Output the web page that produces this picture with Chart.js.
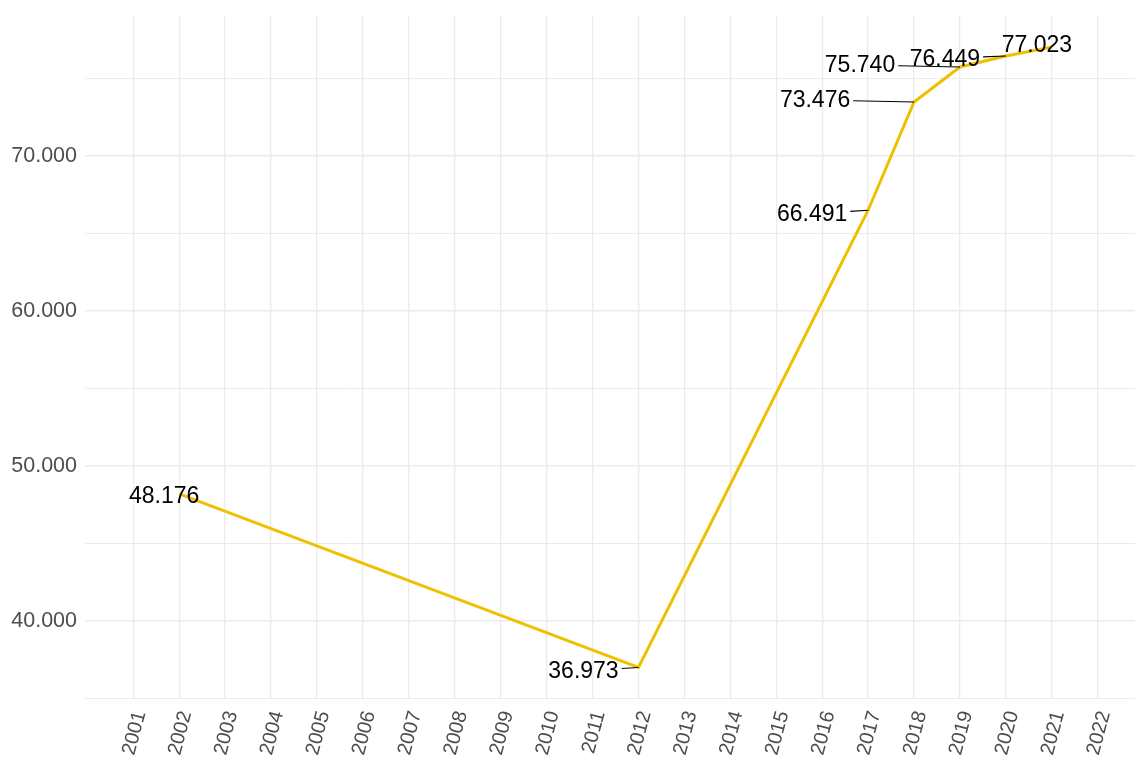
<!DOCTYPE html>
<html>
<head>
<meta charset="utf-8">
<script src="https://cdn.jsdelivr.net/npm/chart.js@4.4.0/dist/chart.umd.min.js"></script>
<style>
  html, body { margin: 0; padding: 0; background: #ffffff; overflow: hidden; }
  #wrap { width: 1135px; height: 758px; }
</style>
</head>
<body>
<div id="wrap"><canvas id="c" width="1135" height="758"></canvas></div>
<script>
// ---- data ----
const years = [2001, 2002, 2003, 2004, 2005, 2006, 2007, 2008, 2009, 2010, 2011,
               2012, 2013, 2014, 2015, 2016, 2017, 2018, 2019, 2020, 2021, 2022];
const pointYears = [2002, 2012, 2017, 2018, 2019, 2020, 2021];
const pointValues = [48176, 36973, 66491, 73476, 75740, 76449, 77023];
const yTicks = [35000, 40000, 45000, 50000, 55000, 60000, 65000, 70000, 75000];

// ---- styling ----
const LINE_COLOR = '#EFC000';
const GRID_COLOR = '#EBEBEB';
const TICK_COLOR = '#4D4D4D';
const FONT = '"Liberation Sans", Arial, Helvetica, sans-serif';
// label text-centre offsets (px) from each point, repel-style placement
const labelOffsets = [[-15, 2], [-55, 3.5], [-56, 3.5], [-99, -2], [-100, -2], [-61, 2.5], [-15, -2]];

function fmt(v) {
  return Math.round(v).toString().replace(/\B(?=(\d{3})+(?!\d))/g, '.');
}

const labelPlugin = {
  id: 'repelLabels',
  afterDatasetsDraw(chart) {
    const ctx = chart.ctx;
    const meta = chart.getDatasetMeta(0);
    ctx.save();
    ctx.font = '23px ' + FONT;
    ctx.textAlign = 'center';
    ctx.textBaseline = 'middle';
    meta.data.forEach((pt, i) => {
      const txt = fmt(pointValues[i]);
      const off = labelOffsets[i];
      const cx = pt.x + off[0];
      const cy = pt.y + off[1];
      const w = ctx.measureText(txt).width;
      const h = 17;
      const pad = 3;
      const x0 = cx - w / 2 - pad, x1 = cx + w / 2 + pad;
      const y0 = cy - h / 2 - pad, y1 = cy + h / 2 + pad;
      const inside = pt.x >= x0 && pt.x <= x1 && pt.y >= y0 && pt.y <= y1;
      if (!inside) {
        const dx = pt.x - cx, dy = pt.y - cy;
        let t = Infinity;
        if (dx !== 0) t = Math.min(t, ((dx > 0 ? x1 : x0) - cx) / dx);
        if (dy !== 0) t = Math.min(t, ((dy > 0 ? y1 : y0) - cy) / dy);
        const sx = cx + dx * t, sy = cy + dy * t;
        ctx.strokeStyle = '#000000';
        ctx.lineWidth = 1.1;
        ctx.beginPath();
        ctx.moveTo(sx, sy);
        ctx.lineTo(pt.x, pt.y);
        ctx.stroke();
      }
      ctx.fillStyle = '#000000';
      ctx.fillText(txt, cx, cy + 1);
    });
    ctx.restore();
  }
};

new Chart(document.getElementById('c'), {
  type: 'line',
  data: {
    datasets: [{
      data: pointYears.map((y, i) => ({ x: y, y: pointValues[i] })),
      borderColor: LINE_COLOR,
      borderWidth: 3,
      pointRadius: 0,
      pointHoverRadius: 0,
      tension: 0,
      fill: false
    }]
  },
  options: {
    responsive: false,
    animation: false,
    events: [],
    layout: { padding: { top: 16, right: 0, left: 0, bottom: 0 } },
    plugins: { legend: { display: false }, tooltip: { enabled: false } },
    scales: {
      x: {
        type: 'linear',
        min: 1999.95,
        max: 2022.81,
        afterBuildTicks: (s) => { s.ticks = years.map(v => ({ value: v })); },
        afterFit: (s) => { s.height = 59.5; s.paddingLeft = 0; s.paddingRight = 0; },
        border: { display: false },
        grid: { color: GRID_COLOR, lineWidth: 1.3, drawTicks: false },
        ticks: {
          autoSkip: false,
          maxRotation: 75,
          minRotation: 75,
          padding: 10,
          labelOffset: 7,
          color: TICK_COLOR,
          font: { family: FONT, size: 20 },
          callback: (v) => String(v)
        }
      },
      y: {
        type: 'linear',
        min: 34970,
        max: 79030,
        afterBuildTicks: (s) => { s.ticks = yTicks.map(v => ({ value: v })); },
        afterFit: (s) => { s.width = 85; s.paddingTop = 0; s.paddingBottom = 0; },
        border: { display: false },
        grid: {
          color: GRID_COLOR,
          lineWidth: (c) => (c.tick && c.tick.value % 10000 === 0) ? 1.4 : 1.0,
          drawTicks: false
        },
        ticks: {
          autoSkip: false,
          padding: 8,
          color: TICK_COLOR,
          font: { family: FONT, size: 21.5 },
          callback: (v) => (v % 10000 === 0 ? fmt(v) : '')
        }
      }
    }
  },
  plugins: [labelPlugin]
});
</script>
</body>
</html>
